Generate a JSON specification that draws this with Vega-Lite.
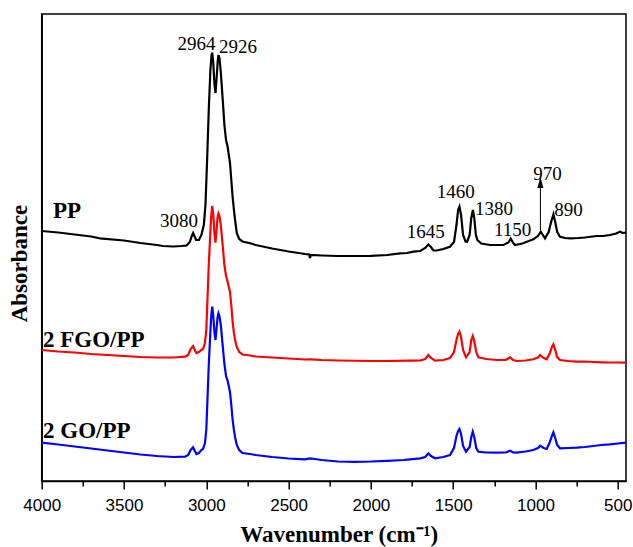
{
  "$schema": "https://vega.github.io/schema/vega-lite/v6.json",
  "autosize": "none",
  "width": 584.3,
  "height": 467,
  "padding": {"left": 41.7, "top": 14, "right": 7, "bottom": 66},
  "background": "white",
  "config": {
    "view": {"stroke": "black", "strokeWidth": 1.5},
    "axis": {"grid": false, "domainColor": "black", "domainWidth": 1.5, "tickColor": "black", "tickWidth": 1.5}
  },
  "datasets": {
    "spectra": [
      {"s":"PP","w":4000,"a":250},{"s":"PP","w":3900,"a":248.5},{"s":"PP","w":3800,"a":246.5},{"s":"PP","w":3700,"a":244.5},{"s":"PP","w":3646,"a":242.7},{"s":"PP","w":3500,"a":240.5},{"s":"PP","w":3400,"a":238},{"s":"PP","w":3300,"a":236},{"s":"PP","w":3263,"a":235},{"s":"PP","w":3200,"a":234.5},{"s":"PP","w":3150,"a":235},{"s":"PP","w":3120,"a":235.5},{"s":"PP","w":3100,"a":239},{"s":"PP","w":3088,"a":245},{"s":"PP","w":3080,"a":248},{"s":"PP","w":3072,"a":245},{"s":"PP","w":3062,"a":241},{"s":"PP","w":3045,"a":241},{"s":"PP","w":3030,"a":246},{"s":"PP","w":3015,"a":256},{"s":"PP","w":3005,"a":276},{"s":"PP","w":2995,"a":321},{"s":"PP","w":2985,"a":371},{"s":"PP","w":2975,"a":411},{"s":"PP","w":2968,"a":426},{"s":"PP","w":2964,"a":428.3},{"s":"PP","w":2958,"a":419},{"s":"PP","w":2950,"a":396},{"s":"PP","w":2944,"a":388},{"s":"PP","w":2938,"a":401},{"s":"PP","w":2930,"a":421},{"s":"PP","w":2926,"a":426},{"s":"PP","w":2920,"a":423},{"s":"PP","w":2912,"a":409},{"s":"PP","w":2900,"a":381},{"s":"PP","w":2890,"a":356},{"s":"PP","w":2880,"a":341},{"s":"PP","w":2870,"a":334},{"s":"PP","w":2856,"a":318},{"s":"PP","w":2848,"a":301},{"s":"PP","w":2840,"a":284},{"s":"PP","w":2832,"a":271},{"s":"PP","w":2825,"a":261},{"s":"PP","w":2815,"a":248},{"s":"PP","w":2800,"a":242},{"s":"PP","w":2780,"a":239.5},{"s":"PP","w":2734,"a":237.7},{"s":"PP","w":2700,"a":236},{"s":"PP","w":2600,"a":232.5},{"s":"PP","w":2500,"a":229.5},{"s":"PP","w":2400,"a":227},{"s":"PP","w":2375,"a":226.5},{"s":"PP","w":2370,"a":223},{"s":"PP","w":2365,"a":226},{"s":"PP","w":2300,"a":225.5},{"s":"PP","w":2200,"a":225},{"s":"PP","w":2100,"a":225},{"s":"PP","w":2000,"a":225.2},{"s":"PP","w":1900,"a":226},{"s":"PP","w":1823,"a":227.7},{"s":"PP","w":1780,"a":228},{"s":"PP","w":1742,"a":229.3},{"s":"PP","w":1700,"a":230},{"s":"PP","w":1670,"a":233},{"s":"PP","w":1651,"a":236.5},{"s":"PP","w":1635,"a":234},{"s":"PP","w":1620,"a":230.5},{"s":"PP","w":1600,"a":230.5},{"s":"PP","w":1560,"a":232},{"s":"PP","w":1520,"a":234.3},{"s":"PP","w":1495,"a":239},{"s":"PP","w":1480,"a":256},{"s":"PP","w":1470,"a":271},{"s":"PP","w":1462,"a":274.3},{"s":"PP","w":1452,"a":266},{"s":"PP","w":1440,"a":246},{"s":"PP","w":1425,"a":239.5},{"s":"PP","w":1415,"a":239.3},{"s":"PP","w":1400,"a":246},{"s":"PP","w":1390,"a":263},{"s":"PP","w":1380,"a":271},{"s":"PP","w":1372,"a":263},{"s":"PP","w":1362,"a":246},{"s":"PP","w":1353,"a":241},{"s":"PP","w":1330,"a":237.5},{"s":"PP","w":1276,"a":236},{"s":"PP","w":1195,"a":236},{"s":"PP","w":1165,"a":238.5},{"s":"PP","w":1150,"a":242.3},{"s":"PP","w":1135,"a":238},{"s":"PP","w":1124,"a":236},{"s":"PP","w":1080,"a":237.5},{"s":"PP","w":1040,"a":240},{"s":"PP","w":1013,"a":241.7},{"s":"PP","w":985,"a":245},{"s":"PP","w":968,"a":249.3},{"s":"PP","w":955,"a":246},{"s":"PP","w":942,"a":242.7},{"s":"PP","w":920,"a":249},{"s":"PP","w":905,"a":259},{"s":"PP","w":891,"a":266.7},{"s":"PP","w":880,"a":259},{"s":"PP","w":868,"a":249},{"s":"PP","w":851,"a":244.3},{"s":"PP","w":820,"a":243},{"s":"PP","w":790,"a":242.7},{"s":"PP","w":740,"a":243},{"s":"PP","w":700,"a":243.5},{"s":"PP","w":628,"a":245},{"s":"PP","w":590,"a":245},{"s":"PP","w":547,"a":246},{"s":"PP","w":510,"a":247.5},{"s":"PP","w":486,"a":249.3},{"s":"PP","w":470,"a":248},{"s":"PP","w":450,"a":248.3},
      {"s":"2 FGO/PP","w":4000,"a":131},{"s":"2 FGO/PP","w":3900,"a":129.5},{"s":"2 FGO/PP","w":3800,"a":128.5},{"s":"2 FGO/PP","w":3700,"a":127},{"s":"2 FGO/PP","w":3600,"a":126},{"s":"2 FGO/PP","w":3500,"a":125},{"s":"2 FGO/PP","w":3400,"a":124},{"s":"2 FGO/PP","w":3300,"a":123.5},{"s":"2 FGO/PP","w":3200,"a":123.5},{"s":"2 FGO/PP","w":3129,"a":124.3},{"s":"2 FGO/PP","w":3110,"a":126},{"s":"2 FGO/PP","w":3095,"a":132},{"s":"2 FGO/PP","w":3080,"a":135},{"s":"2 FGO/PP","w":3070,"a":131},{"s":"2 FGO/PP","w":3060,"a":128},{"s":"2 FGO/PP","w":3045,"a":129},{"s":"2 FGO/PP","w":3030,"a":131},{"s":"2 FGO/PP","w":3020,"a":132},{"s":"2 FGO/PP","w":3008,"a":138},{"s":"2 FGO/PP","w":3000,"a":151},{"s":"2 FGO/PP","w":2993,"a":181},{"s":"2 FGO/PP","w":2985,"a":216},{"s":"2 FGO/PP","w":2977,"a":243},{"s":"2 FGO/PP","w":2970,"a":265},{"s":"2 FGO/PP","w":2964,"a":275},{"s":"2 FGO/PP","w":2958,"a":267},{"s":"2 FGO/PP","w":2950,"a":247},{"s":"2 FGO/PP","w":2944,"a":238.3},{"s":"2 FGO/PP","w":2938,"a":250},{"s":"2 FGO/PP","w":2932,"a":263},{"s":"2 FGO/PP","w":2926,"a":267.5},{"s":"2 FGO/PP","w":2920,"a":265},{"s":"2 FGO/PP","w":2912,"a":256},{"s":"2 FGO/PP","w":2900,"a":235},{"s":"2 FGO/PP","w":2890,"a":216},{"s":"2 FGO/PP","w":2880,"a":205},{"s":"2 FGO/PP","w":2870,"a":199},{"s":"2 FGO/PP","w":2856,"a":189},{"s":"2 FGO/PP","w":2848,"a":176},{"s":"2 FGO/PP","w":2840,"a":159},{"s":"2 FGO/PP","w":2832,"a":148},{"s":"2 FGO/PP","w":2825,"a":141},{"s":"2 FGO/PP","w":2815,"a":134},{"s":"2 FGO/PP","w":2800,"a":129},{"s":"2 FGO/PP","w":2780,"a":126.5},{"s":"2 FGO/PP","w":2734,"a":125.5},{"s":"2 FGO/PP","w":2700,"a":124.5},{"s":"2 FGO/PP","w":2600,"a":123.5},{"s":"2 FGO/PP","w":2500,"a":122.5},{"s":"2 FGO/PP","w":2400,"a":121.5},{"s":"2 FGO/PP","w":2368,"a":121.7},{"s":"2 FGO/PP","w":2300,"a":121},{"s":"2 FGO/PP","w":2200,"a":120.5},{"s":"2 FGO/PP","w":2000,"a":120},{"s":"2 FGO/PP","w":1900,"a":120},{"s":"2 FGO/PP","w":1762,"a":120.3},{"s":"2 FGO/PP","w":1700,"a":120.5},{"s":"2 FGO/PP","w":1670,"a":122},{"s":"2 FGO/PP","w":1651,"a":126},{"s":"2 FGO/PP","w":1635,"a":123},{"s":"2 FGO/PP","w":1610,"a":120.3},{"s":"2 FGO/PP","w":1560,"a":121},{"s":"2 FGO/PP","w":1519,"a":123},{"s":"2 FGO/PP","w":1495,"a":129},{"s":"2 FGO/PP","w":1480,"a":141},{"s":"2 FGO/PP","w":1470,"a":147},{"s":"2 FGO/PP","w":1462,"a":149.3},{"s":"2 FGO/PP","w":1452,"a":144},{"s":"2 FGO/PP","w":1440,"a":131},{"s":"2 FGO/PP","w":1422,"a":123.7},{"s":"2 FGO/PP","w":1400,"a":129},{"s":"2 FGO/PP","w":1390,"a":141},{"s":"2 FGO/PP","w":1381,"a":145},{"s":"2 FGO/PP","w":1372,"a":140},{"s":"2 FGO/PP","w":1360,"a":129},{"s":"2 FGO/PP","w":1347,"a":123.7},{"s":"2 FGO/PP","w":1300,"a":122},{"s":"2 FGO/PP","w":1235,"a":121},{"s":"2 FGO/PP","w":1180,"a":121},{"s":"2 FGO/PP","w":1154,"a":123.7},{"s":"2 FGO/PP","w":1135,"a":121},{"s":"2 FGO/PP","w":1114,"a":120},{"s":"2 FGO/PP","w":1060,"a":120.5},{"s":"2 FGO/PP","w":1013,"a":121.7},{"s":"2 FGO/PP","w":985,"a":123.5},{"s":"2 FGO/PP","w":972,"a":126},{"s":"2 FGO/PP","w":950,"a":123},{"s":"2 FGO/PP","w":932,"a":121.7},{"s":"2 FGO/PP","w":915,"a":127},{"s":"2 FGO/PP","w":900,"a":134},{"s":"2 FGO/PP","w":891,"a":136.7},{"s":"2 FGO/PP","w":880,"a":131},{"s":"2 FGO/PP","w":868,"a":124},{"s":"2 FGO/PP","w":851,"a":121},{"s":"2 FGO/PP","w":800,"a":120},{"s":"2 FGO/PP","w":749,"a":119.3},{"s":"2 FGO/PP","w":700,"a":119.5},{"s":"2 FGO/PP","w":648,"a":119},{"s":"2 FGO/PP","w":600,"a":118.7},{"s":"2 FGO/PP","w":550,"a":118.5},{"s":"2 FGO/PP","w":500,"a":118.5},{"s":"2 FGO/PP","w":450,"a":118.3},
      {"s":"2 GO/PP","w":4000,"a":38.3},{"s":"2 GO/PP","w":3900,"a":36.5},{"s":"2 GO/PP","w":3800,"a":34.5},{"s":"2 GO/PP","w":3700,"a":32.5},{"s":"2 GO/PP","w":3600,"a":30.5},{"s":"2 GO/PP","w":3500,"a":28.5},{"s":"2 GO/PP","w":3400,"a":26.5},{"s":"2 GO/PP","w":3300,"a":25},{"s":"2 GO/PP","w":3200,"a":24},{"s":"2 GO/PP","w":3129,"a":24.3},{"s":"2 GO/PP","w":3110,"a":26},{"s":"2 GO/PP","w":3095,"a":31},{"s":"2 GO/PP","w":3080,"a":33.7},{"s":"2 GO/PP","w":3070,"a":30},{"s":"2 GO/PP","w":3060,"a":27},{"s":"2 GO/PP","w":3045,"a":28},{"s":"2 GO/PP","w":3030,"a":31},{"s":"2 GO/PP","w":3020,"a":32},{"s":"2 GO/PP","w":3008,"a":38},{"s":"2 GO/PP","w":3000,"a":51},{"s":"2 GO/PP","w":2993,"a":81},{"s":"2 GO/PP","w":2985,"a":116},{"s":"2 GO/PP","w":2977,"a":143},{"s":"2 GO/PP","w":2970,"a":165},{"s":"2 GO/PP","w":2964,"a":174.3},{"s":"2 GO/PP","w":2958,"a":166},{"s":"2 GO/PP","w":2950,"a":148},{"s":"2 GO/PP","w":2944,"a":141},{"s":"2 GO/PP","w":2938,"a":151},{"s":"2 GO/PP","w":2932,"a":163},{"s":"2 GO/PP","w":2926,"a":167.7},{"s":"2 GO/PP","w":2920,"a":165},{"s":"2 GO/PP","w":2912,"a":156},{"s":"2 GO/PP","w":2900,"a":135},{"s":"2 GO/PP","w":2890,"a":117},{"s":"2 GO/PP","w":2880,"a":105},{"s":"2 GO/PP","w":2870,"a":100},{"s":"2 GO/PP","w":2856,"a":89},{"s":"2 GO/PP","w":2848,"a":76},{"s":"2 GO/PP","w":2840,"a":61},{"s":"2 GO/PP","w":2832,"a":51},{"s":"2 GO/PP","w":2825,"a":44},{"s":"2 GO/PP","w":2815,"a":36},{"s":"2 GO/PP","w":2800,"a":31},{"s":"2 GO/PP","w":2780,"a":28},{"s":"2 GO/PP","w":2734,"a":27},{"s":"2 GO/PP","w":2700,"a":26},{"s":"2 GO/PP","w":2600,"a":24},{"s":"2 GO/PP","w":2500,"a":22.5},{"s":"2 GO/PP","w":2400,"a":21.7},{"s":"2 GO/PP","w":2370,"a":22.7},{"s":"2 GO/PP","w":2340,"a":22},{"s":"2 GO/PP","w":2300,"a":21},{"s":"2 GO/PP","w":2200,"a":19.5},{"s":"2 GO/PP","w":2100,"a":19.2},{"s":"2 GO/PP","w":2000,"a":19.5},{"s":"2 GO/PP","w":1900,"a":20.2},{"s":"2 GO/PP","w":1800,"a":21},{"s":"2 GO/PP","w":1762,"a":21.7},{"s":"2 GO/PP","w":1701,"a":22.7},{"s":"2 GO/PP","w":1670,"a":24},{"s":"2 GO/PP","w":1651,"a":27.7},{"s":"2 GO/PP","w":1635,"a":25},{"s":"2 GO/PP","w":1610,"a":22.7},{"s":"2 GO/PP","w":1560,"a":24},{"s":"2 GO/PP","w":1519,"a":26},{"s":"2 GO/PP","w":1495,"a":33},{"s":"2 GO/PP","w":1480,"a":45},{"s":"2 GO/PP","w":1470,"a":50},{"s":"2 GO/PP","w":1462,"a":52},{"s":"2 GO/PP","w":1452,"a":47},{"s":"2 GO/PP","w":1440,"a":35},{"s":"2 GO/PP","w":1422,"a":29.3},{"s":"2 GO/PP","w":1400,"a":34},{"s":"2 GO/PP","w":1390,"a":44},{"s":"2 GO/PP","w":1381,"a":49.3},{"s":"2 GO/PP","w":1372,"a":44},{"s":"2 GO/PP","w":1360,"a":33},{"s":"2 GO/PP","w":1347,"a":29.3},{"s":"2 GO/PP","w":1300,"a":28.5},{"s":"2 GO/PP","w":1235,"a":28.3},{"s":"2 GO/PP","w":1180,"a":28.5},{"s":"2 GO/PP","w":1154,"a":30.3},{"s":"2 GO/PP","w":1135,"a":28.5},{"s":"2 GO/PP","w":1114,"a":28.3},{"s":"2 GO/PP","w":1060,"a":29.5},{"s":"2 GO/PP","w":1013,"a":31},{"s":"2 GO/PP","w":985,"a":33},{"s":"2 GO/PP","w":972,"a":35.3},{"s":"2 GO/PP","w":950,"a":33},{"s":"2 GO/PP","w":932,"a":32},{"s":"2 GO/PP","w":915,"a":38},{"s":"2 GO/PP","w":900,"a":45},{"s":"2 GO/PP","w":891,"a":48.7},{"s":"2 GO/PP","w":880,"a":43},{"s":"2 GO/PP","w":868,"a":36},{"s":"2 GO/PP","w":851,"a":32.7},{"s":"2 GO/PP","w":800,"a":33},{"s":"2 GO/PP","w":749,"a":33.3},{"s":"2 GO/PP","w":700,"a":34},{"s":"2 GO/PP","w":648,"a":35},{"s":"2 GO/PP","w":600,"a":36},{"s":"2 GO/PP","w":547,"a":36.7},{"s":"2 GO/PP","w":500,"a":37.5},{"s":"2 GO/PP","w":450,"a":38.3}
    ],
    "peaks": [
      {"t":"2964","w":3059,"a":431},
      {"t":"2926","w":2807,"a":428},
      {"t":"3080","w":3166,"a":254},
      {"t":"1645","w":1666,"a":242.7},
      {"t":"1460","w":1484,"a":282.7},
      {"t":"1380","w":1252,"a":266},
      {"t":"1150","w":1139,"a":245},
      {"t":"970","w":927,"a":301},
      {"t":"890","w":800,"a":265}
    ],
    "names": [
      {"t":"PP","w":3931,"a":262.7},
      {"t":"2 FGO/PP","w":3992,"a":134},
      {"t":"2 GO/PP","w":3992,"a":42.7}
    ],
    "arrow": [
      {"w":970,"a":251,"a2":293,"tip":298.5}
    ]
  },
  "layer": [
    {
      "data": {"name": "spectra"},
      "mark": {"type": "line", "strokeWidth": 2.2},
      "encoding": {
        "x": {
          "field": "w", "type": "quantitative",
          "scale": {"domain": [450, 4000], "reverse": true, "nice": false, "zero": false},
          "axis": {
            "title": "Wavenumber (cm⁻¹)",
            "values": [4000,3750,3500,3250,3000,2750,2500,2250,2000,1750,1500,1250,1000,750,500],
            "format": "d",
            "labelExpr": "datum.value % 500 === 0 ? datum.label : ''",
            "tickSize": {"condition": {"test": "datum.value % 500 === 0", "value": 8}, "value": 5},
            "labelFont": "Liberation Sans", "labelFontSize": 17, "labelColor": "black",
            "labelBaseline": "alphabetic", "labelPadding": 21, "labelFlush": false, "labelOverlap": false,
            "titleFont": "Liberation Serif", "titleFontSize": 23, "titleFontWeight": "bold", "titleColor": "black",
            "titleBaseline": "alphabetic", "titleX": 297, "titleY": 60, "titleAlign": "center"
          }
        },
        "y": {
          "field": "a", "type": "quantitative",
          "scale": {"domain": [0, 467], "nice": false, "zero": false},
          "axis": {
            "title": "Absorbance", "labels": false, "ticks": false,
            "titleFont": "Liberation Serif", "titleFontSize": 23, "titleFontWeight": "bold", "titleColor": "black",
            "titleBaseline": "alphabetic", "titleAngle": -90, "titleX": -15, "titleY": 249, "titleAlign": "center"
          }
        },
        "color": {
          "field": "s", "type": "nominal",
          "scale": {"domain": ["PP", "2 FGO/PP", "2 GO/PP"], "range": ["#000000", "#ff0000", "#0000ff"]},
          "legend": null
        }
      }
    },
    {
      "data": {"name": "peaks"},
      "mark": {"type": "text", "font": "Liberation Serif", "fontSize": 19, "align": "center", "baseline": "alphabetic", "color": "black"},
      "encoding": {
        "x": {"field": "w", "type": "quantitative"},
        "y": {"field": "a", "type": "quantitative"},
        "text": {"field": "t"}
      }
    },
    {
      "data": {"name": "names"},
      "mark": {"type": "text", "font": "Liberation Serif", "fontSize": 23, "fontWeight": "bold", "align": "left", "baseline": "alphabetic", "color": "black"},
      "encoding": {
        "x": {"field": "w", "type": "quantitative"},
        "y": {"field": "a", "type": "quantitative"},
        "text": {"field": "t"}
      }
    },
    {
      "data": {"name": "arrow"},
      "mark": {"type": "rule", "color": "black", "strokeWidth": 1},
      "encoding": {
        "x": {"field": "w", "type": "quantitative"},
        "y": {"field": "a", "type": "quantitative"},
        "y2": {"field": "a2"}
      }
    },
    {
      "data": {"name": "arrow"},
      "mark": {"type": "point", "shape": "M0,-1L0.55,1L-0.55,1Z", "size": 121, "filled": true, "color": "black", "opacity": 1},
      "encoding": {
        "x": {"field": "w", "type": "quantitative"},
        "y": {"field": "tip", "type": "quantitative"}
      }
    }
  ]
}
